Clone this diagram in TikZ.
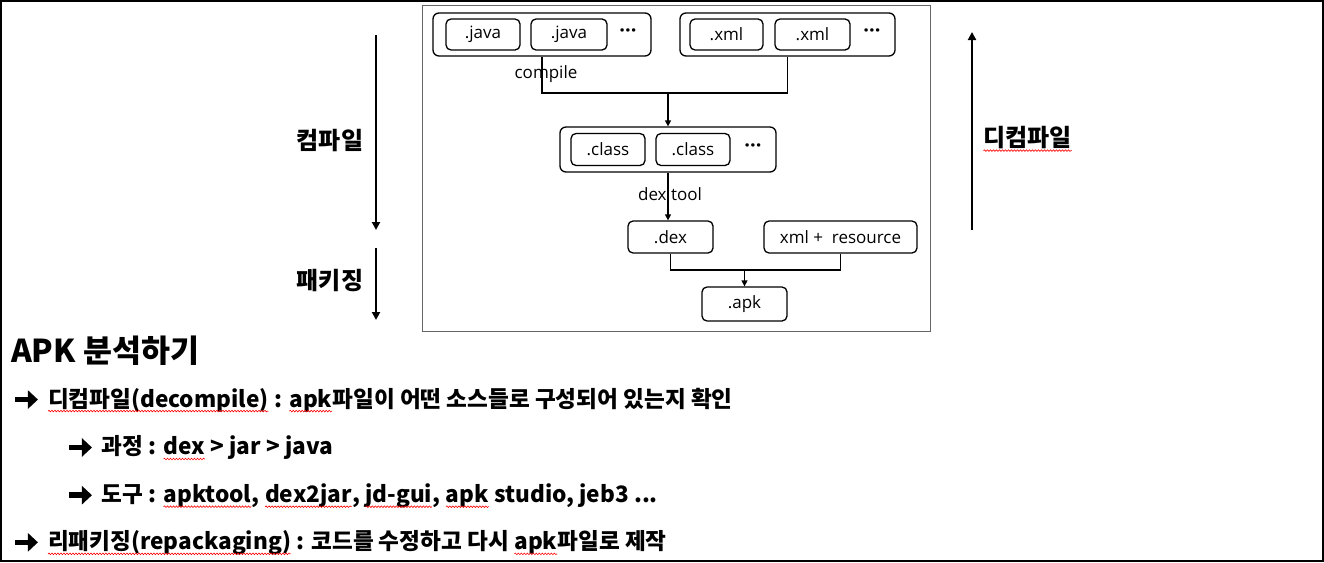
\documentclass[tikz,border=0pt]{standalone}
\usepackage{fontspec}
\setmainfont{Noto Sans CJK KR}
\newfontfamily\diagfont{Open Sans}
\usetikzlibrary{arrows.meta,decorations.pathmorphing}
\newcommand\rw[1]{\tikz[baseline=(t.base)]{\node[inner sep=0pt, outer sep=0pt] (t) {#1};
  \draw[red, line width=0.6pt, decorate, decoration={snake, amplitude=0.8pt, segment length=3pt}] ([yshift=-4pt]t.base west) -- ([yshift=-4pt]t.base east);}}
\newcommand\arw{\tikz[baseline=0pt]{\draw[line width=5.5pt, -{Triangle[length=10pt,width=18pt]}] (0pt,7.5pt) -- (23pt,7.5pt);}\hspace{7pt}}
\tikzset{
  grp/.style={draw, line width=1.3pt, rounded corners=6pt, inner sep=0pt},
  fbox/.style={draw, line width=1.3pt, rounded corners=5pt, inner sep=0pt, font=\diagfont\fontsize{17}{20}\selectfont},
  dots/.style={font=\diagfont\fontsize{20}{22}\selectfont\bfseries, inner sep=0pt},
  lbl/.style={font=\diagfont\fontsize{17}{20}\selectfont, inner sep=0pt},
  conn/.style={line width=1.3pt},
  carr/.style={line width=1.3pt, -{Triangle[length=6pt,width=6pt]}},
  bigarr/.style={line width=2pt, -{Triangle[length=8pt,width=8pt]}},
  side/.style={font=\fontsize{24}{28}\selectfont\bfseries, inner sep=0pt},
  body/.style={font=\fontsize{22.6}{27}\selectfont\bfseries, inner sep=0pt, anchor=west},
}
\begin{document}
\begin{tikzpicture}[x=1pt,y=-1pt]
\useasboundingbox (0,0) rectangle (1324,562);
\fill[white] (0,0) rectangle (1324,562);
\draw[line width=2pt] (1,1) rectangle (1323,561);
% diagram frame
\draw[gray!80!black, line width=1pt] (422,5) rectangle (930,331);
% java group
\node[grp, minimum width=218pt, minimum height=43pt] (jgroup) at (542,34.5) {};
\node[fbox, minimum width=74pt, minimum height=31pt] (j1) at (483,34.5) {.java};
\node[fbox, minimum width=76pt, minimum height=31pt] (j2) at (569,34.5) {.java};
\node[dots] (jdots) at (628,33) {···};
% xml group
\node[grp, minimum width=215pt, minimum height=43pt] (xgroup) at (787.5,34.5) {};
\node[fbox, minimum width=73pt, minimum height=31pt] (x1) at (726.5,34.5) {.xml};
\node[fbox, minimum width=75pt, minimum height=31pt] (x2) at (812.5,34.5) {.xml};
\node[dots] (xdots) at (872,33) {···};
% class group
\node[grp, minimum width=216pt, minimum height=45pt] (cgroup) at (668,149.5) {};
\node[fbox, minimum width=74pt, minimum height=32pt] (c1) at (608,149.5) {.class};
\node[fbox, minimum width=74pt, minimum height=32pt] (c2) at (693,149.5) {.class};
\node[dots] (cdots) at (753,148) {···};
% dex, resource, apk
\node[fbox, minimum width=85pt, minimum height=32pt] (dex) at (670.5,237) {.dex};
\node[fbox, minimum width=153pt, minimum height=32pt] (res) at (840.5,237) {xml +\ \ resource};
\node[fbox, minimum width=85pt, minimum height=34pt] (apk) at (744.5,304) {.apk};
% connectors
\coordinate (cj) at (542,93);
\coordinate (cx) at (787.5,93);
\coordinate (cm) at (668,93);
\draw[conn] (jgroup.south) -- (cj) -- (cx) -- (xgroup.south);
\draw[carr] (cm) -- (cgroup.north);
\node[lbl] (compile) at (546,74) {compile};
\draw[carr] (cgroup.south) -- (cgroup.south |- dex.north);
\node[lbl] (dextool) at (670,194) {dex tool};
\coordinate (dd) at (670.5,270);
\coordinate (rr) at (840.5,270);
\coordinate (aa) at (744.5,270);
\draw[conn] (dex.south) -- (dd) -- (rr) -- (res.south);
\draw[carr] (aa) -- (apk.north);
% side arrows
\coordinate (ca1) at (376,35);
\coordinate (ca2) at (376,230);
\coordinate (pa1) at (376,248);
\coordinate (pa2) at (376,320);
\coordinate (da1) at (972,230);
\coordinate (da2) at (972,32);
\draw[bigarr] (ca1) -- (ca2);
\draw[bigarr] (pa1) -- (pa2);
\draw[bigarr] (da1) -- (da2);
\node[side] (comp) at (330,141) {컴파일};
\node[side] (pack) at (330,281) {패키징};
\node[side, anchor=west] (decomp) at (983,139) {\rw{디컴파일}};
% bottom text
\node[font=\fontsize{31.5}{36}\selectfont\bfseries, inner sep=0pt, anchor=west] (title) at (11,351) {APK 분석하기};
\node[body] (l1) at (12,400) {\arw\rw{디컴파일(decompile)} : \rw{apk}파일이 어떤 소스들로 구성되어 있는지 확인};
\node[body] (l2) at (66,448) {\arw 과정 : \rw{dex} \textgreater\ jar \textgreater\ java};
\node[body] (l3) at (66,496) {\arw 도구 : \rw{apktool}, \rw{dex2jar}, \rw{jd-gui}, \rw{apk} studio, jeb3 ...};
\node[body] (l4) at (12,543) {\arw\rw{리패키징(repackaging)} : 코드를 수정하고 다시 \rw{apk}파일로 제작};
\end{tikzpicture}
\end{document}
